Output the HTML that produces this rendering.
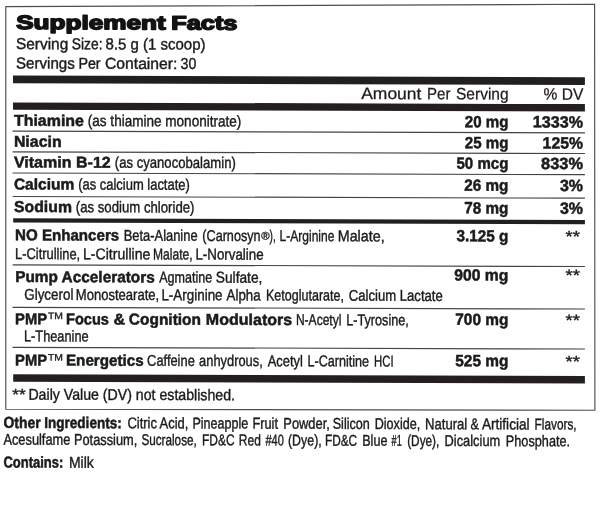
<!DOCTYPE html>
<html><head><meta charset="utf-8"><title>Supplement Facts</title>
<style>
html,body{margin:0;padding:0;background:#fff;}
body{width:600px;height:523px;overflow:hidden;font-family:"Liberation Sans", sans-serif;}
svg{display:block;font-family:"Liberation Sans", sans-serif;filter:blur(0.3px);}
</style></head><body>
<svg width="600" height="523" viewBox="0 0 600 523" text-rendering="geometricPrecision">
<rect x="0" y="0" width="600" height="523" fill="#fff"/>
<polygon points="5.8,6.6 594.6,4.3 594.9,410.2 5.8,409.2" fill="none" stroke="#4f4d4e" stroke-width="1.15"/>
<g transform="matrix(1,0.003,0,1,0,-0.0390)">
<text x="16.2" y="29.0" textLength="149.4" lengthAdjust="spacingAndGlyphs" font-size="19.4" font-weight="bold" fill="#141213" stroke="#141213" stroke-width="1.5" stroke-linejoin="round">Supplement</text>
<text x="171.3" y="29.0" textLength="66.1" lengthAdjust="spacingAndGlyphs" font-size="19.4" font-weight="bold" fill="#141213" stroke="#141213" stroke-width="1.5" stroke-linejoin="round">Facts</text>
<text x="16.0" y="49.1" textLength="52.2" lengthAdjust="spacingAndGlyphs" font-size="15.8" font-weight="normal" fill="#1c1a1b" stroke="#1c1a1b" stroke-width="0.4">Serving</text>
<text x="71.8" y="49.1" textLength="30.8" lengthAdjust="spacingAndGlyphs" font-size="15.8" font-weight="normal" fill="#1c1a1b" stroke="#1c1a1b" stroke-width="0.4">Size:</text>
<text x="105.6" y="49.1" textLength="99.9" lengthAdjust="spacingAndGlyphs" font-size="15.8" font-weight="normal" fill="#1c1a1b" stroke="#1c1a1b" stroke-width="0.4">8.5 g (1 scoop)</text>
<text x="16.0" y="68.5" textLength="58.8" lengthAdjust="spacingAndGlyphs" font-size="15.8" font-weight="normal" fill="#1c1a1b" stroke="#1c1a1b" stroke-width="0.4">Servings</text>
<text x="78.4" y="68.5" textLength="22.2" lengthAdjust="spacingAndGlyphs" font-size="15.8" font-weight="normal" fill="#1c1a1b" stroke="#1c1a1b" stroke-width="0.4">Per</text>
<text x="105.0" y="68.5" textLength="72.4" lengthAdjust="spacingAndGlyphs" font-size="15.8" font-weight="normal" fill="#1c1a1b" stroke="#1c1a1b" stroke-width="0.4">Container:</text>
<text x="180.6" y="68.5" textLength="15.8" lengthAdjust="spacingAndGlyphs" font-size="15.8" font-weight="normal" fill="#1c1a1b" stroke="#1c1a1b" stroke-width="0.4">30</text>
<rect x="13.0" y="75.5" width="571.9" height="7.7" fill="#231f20"/>
<text x="361.2" y="98.0" textLength="60.2" lengthAdjust="spacingAndGlyphs" font-size="16.4" font-weight="normal" fill="#1c1a1b" stroke="#1c1a1b" stroke-width="0.25">Amount</text>
<text x="427.0" y="98.0" textLength="23.4" lengthAdjust="spacingAndGlyphs" font-size="16.4" font-weight="normal" fill="#1c1a1b" stroke="#1c1a1b" stroke-width="0.25">Per</text>
<text x="456.0" y="98.0" textLength="52.6" lengthAdjust="spacingAndGlyphs" font-size="16.4" font-weight="normal" fill="#1c1a1b" stroke="#1c1a1b" stroke-width="0.25">Serving</text>
<text x="543.5" y="98.0" textLength="39.8" lengthAdjust="spacingAndGlyphs" font-size="16.4" font-weight="normal" fill="#1c1a1b" stroke="#1c1a1b" stroke-width="0.25">% DV</text>
<rect x="13.0" y="102.4" width="571.9" height="7.3" fill="#231f20"/>
<text x="13.9" y="125.8" textLength="70.1" lengthAdjust="spacingAndGlyphs" font-size="15.7" font-weight="bold" fill="#1c1a1b" stroke="#1c1a1b" stroke-width="0.5">Thiamine</text>
<text x="87.8" y="125.8" textLength="153.5" lengthAdjust="spacingAndGlyphs" font-size="15.6" font-weight="normal" fill="#1c1a1b" stroke="#1c1a1b" stroke-width="0.4">(as thiamine mononitrate)</text>
<text x="464.8" y="125.8" textLength="43.6" lengthAdjust="spacingAndGlyphs" font-size="16.3" font-weight="bold" fill="#1c1a1b" stroke="#1c1a1b" stroke-width="0.5">20 mg</text>
<text x="532.8" y="125.8" textLength="50.2" lengthAdjust="spacingAndGlyphs" font-size="16.3" font-weight="bold" fill="#1c1a1b" stroke="#1c1a1b" stroke-width="0.5">1333%</text>
<text x="13.9" y="146.8" textLength="47.7" lengthAdjust="spacingAndGlyphs" font-size="15.7" font-weight="bold" fill="#1c1a1b" stroke="#1c1a1b" stroke-width="0.5">Niacin</text>
<text x="464.8" y="146.8" textLength="43.6" lengthAdjust="spacingAndGlyphs" font-size="16.3" font-weight="bold" fill="#1c1a1b" stroke="#1c1a1b" stroke-width="0.5">25 mg</text>
<text x="542.6" y="146.8" textLength="40.4" lengthAdjust="spacingAndGlyphs" font-size="16.3" font-weight="bold" fill="#1c1a1b" stroke="#1c1a1b" stroke-width="0.5">125%</text>
<text x="13.9" y="167.4" textLength="96.9" lengthAdjust="spacingAndGlyphs" font-size="15.7" font-weight="bold" fill="#1c1a1b" stroke="#1c1a1b" stroke-width="0.5">Vitamin B-12</text>
<text x="114.8" y="167.4" textLength="121.0" lengthAdjust="spacingAndGlyphs" font-size="15.6" font-weight="normal" fill="#1c1a1b" stroke="#1c1a1b" stroke-width="0.4">(as cyanocobalamin)</text>
<text x="456.5" y="167.4" textLength="51.9" lengthAdjust="spacingAndGlyphs" font-size="16.3" font-weight="bold" fill="#1c1a1b" stroke="#1c1a1b" stroke-width="0.5">50 mcg</text>
<text x="541.1" y="167.4" textLength="41.9" lengthAdjust="spacingAndGlyphs" font-size="16.3" font-weight="bold" fill="#1c1a1b" stroke="#1c1a1b" stroke-width="0.5">833%</text>
<text x="13.9" y="189.4" textLength="60.3" lengthAdjust="spacingAndGlyphs" font-size="15.7" font-weight="bold" fill="#1c1a1b" stroke="#1c1a1b" stroke-width="0.5">Calcium</text>
<text x="78.2" y="189.4" textLength="111.6" lengthAdjust="spacingAndGlyphs" font-size="15.6" font-weight="normal" fill="#1c1a1b" stroke="#1c1a1b" stroke-width="0.4">(as calcium lactate)</text>
<text x="464.3" y="189.4" textLength="44.1" lengthAdjust="spacingAndGlyphs" font-size="16.3" font-weight="bold" fill="#1c1a1b" stroke="#1c1a1b" stroke-width="0.5">26 mg</text>
<text x="559.9" y="189.4" textLength="23.1" lengthAdjust="spacingAndGlyphs" font-size="16.3" font-weight="bold" fill="#1c1a1b" stroke="#1c1a1b" stroke-width="0.5">3%</text>
<text x="14.0" y="212.0" textLength="58.0" lengthAdjust="spacingAndGlyphs" font-size="15.7" font-weight="bold" fill="#1c1a1b" stroke="#1c1a1b" stroke-width="0.5">Sodium</text>
<text x="75.8" y="212.0" textLength="118.7" lengthAdjust="spacingAndGlyphs" font-size="15.6" font-weight="normal" fill="#1c1a1b" stroke="#1c1a1b" stroke-width="0.4">(as sodium chloride)</text>
<text x="464.3" y="212.0" textLength="44.1" lengthAdjust="spacingAndGlyphs" font-size="16.3" font-weight="bold" fill="#1c1a1b" stroke="#1c1a1b" stroke-width="0.5">78 mg</text>
<text x="559.9" y="212.0" textLength="23.1" lengthAdjust="spacingAndGlyphs" font-size="16.3" font-weight="bold" fill="#1c1a1b" stroke="#1c1a1b" stroke-width="0.5">3%</text>
<rect x="12.6" y="130.6" width="572.3" height="1.2" fill="#454344"/>
<rect x="12.6" y="151.2" width="572.3" height="1.2" fill="#454344"/>
<rect x="12.6" y="172.4" width="572.3" height="1.2" fill="#454344"/>
<rect x="12.6" y="195.9" width="572.3" height="1.2" fill="#454344"/>
<rect x="13.2" y="218.3" width="571.7" height="4.3" fill="#231f20"/>
<text x="15.0" y="240.3" textLength="104.2" lengthAdjust="spacingAndGlyphs" font-size="15.7" font-weight="bold" fill="#1c1a1b" stroke="#1c1a1b" stroke-width="0.5">NO Enhancers</text>
<text x="123.7" y="240.3" textLength="73.9" lengthAdjust="spacingAndGlyphs" font-size="15.6" font-weight="normal" fill="#1c1a1b" stroke="#1c1a1b" stroke-width="0.4">Beta-Alanine</text>
<text x="202.3" y="240.3" textLength="58.3" lengthAdjust="spacingAndGlyphs" font-size="15.6" font-weight="normal" fill="#1c1a1b" stroke="#1c1a1b" stroke-width="0.4">(Carnosyn</text>
<text x="269.6" y="240.3" textLength="6.2" lengthAdjust="spacingAndGlyphs" font-size="15.6" font-weight="normal" fill="#1c1a1b" stroke="#1c1a1b" stroke-width="0.4">),</text>
<text x="279.6" y="240.3" textLength="54.8" lengthAdjust="spacingAndGlyphs" font-size="15.6" font-weight="normal" fill="#1c1a1b" stroke="#1c1a1b" stroke-width="0.4">L-Arginine</text>
<text x="337.8" y="240.3" textLength="46.8" lengthAdjust="spacingAndGlyphs" font-size="15.6" font-weight="normal" fill="#1c1a1b" stroke="#1c1a1b" stroke-width="0.4">Malate,</text>
<text x="261.3" y="238.8" textLength="8.4" lengthAdjust="spacingAndGlyphs" font-size="11" font-weight="normal" fill="#1c1a1b" stroke="#1c1a1b" stroke-width="0.35">®</text>
<text x="15.0" y="259.0" textLength="65.2" lengthAdjust="spacingAndGlyphs" font-size="15.6" font-weight="normal" fill="#1c1a1b" stroke="#1c1a1b" stroke-width="0.4">L-Citrulline,</text>
<text x="83.0" y="259.0" textLength="67.4" lengthAdjust="spacingAndGlyphs" font-size="15.6" font-weight="normal" fill="#1c1a1b" stroke="#1c1a1b" stroke-width="0.4">L-Citrulline</text>
<text x="153.0" y="259.0" textLength="39.6" lengthAdjust="spacingAndGlyphs" font-size="15.6" font-weight="normal" fill="#1c1a1b" stroke="#1c1a1b" stroke-width="0.4">Malate,</text>
<text x="195.4" y="259.0" textLength="68.2" lengthAdjust="spacingAndGlyphs" font-size="15.6" font-weight="normal" fill="#1c1a1b" stroke="#1c1a1b" stroke-width="0.4">L-Norvaline</text>
<text x="456.5" y="240.0" textLength="51.9" lengthAdjust="spacingAndGlyphs" font-size="16.3" font-weight="bold" fill="#1c1a1b" stroke="#1c1a1b" stroke-width="0.5">3.125 g</text>
<rect x="12.6" y="264.2" width="572.3" height="1.2" fill="#454344"/>
<text x="15.2" y="282.0" textLength="139.6" lengthAdjust="spacingAndGlyphs" font-size="15.7" font-weight="bold" fill="#1c1a1b" stroke="#1c1a1b" stroke-width="0.5">Pump Accelerators</text>
<text x="159.2" y="282.0" textLength="53.0" lengthAdjust="spacingAndGlyphs" font-size="15.6" font-weight="normal" fill="#1c1a1b" stroke="#1c1a1b" stroke-width="0.4">Agmatine</text>
<text x="215.8" y="282.0" textLength="46.6" lengthAdjust="spacingAndGlyphs" font-size="15.6" font-weight="normal" fill="#1c1a1b" stroke="#1c1a1b" stroke-width="0.4">Sulfate,</text>
<text x="24.3" y="299.7" textLength="49.1" lengthAdjust="spacingAndGlyphs" font-size="15.6" font-weight="normal" fill="#1c1a1b" stroke="#1c1a1b" stroke-width="0.4">Glycerol</text>
<text x="75.8" y="299.7" textLength="83.4" lengthAdjust="spacingAndGlyphs" font-size="15.6" font-weight="normal" fill="#1c1a1b" stroke="#1c1a1b" stroke-width="0.4">Monostearate,</text>
<text x="161.4" y="299.7" textLength="61.2" lengthAdjust="spacingAndGlyphs" font-size="15.6" font-weight="normal" fill="#1c1a1b" stroke="#1c1a1b" stroke-width="0.4">L-Arginine</text>
<text x="226.6" y="299.7" textLength="34.0" lengthAdjust="spacingAndGlyphs" font-size="15.6" font-weight="normal" fill="#1c1a1b" stroke="#1c1a1b" stroke-width="0.4">Alpha</text>
<text x="266" y="299.7" textLength="78" lengthAdjust="spacingAndGlyphs" font-size="15.6" font-weight="normal" fill="#1c1a1b" stroke="#1c1a1b" stroke-width="0.4">Ketoglutarate,</text>
<text x="348.8" y="299.7" textLength="94.0" lengthAdjust="spacingAndGlyphs" font-size="15.6" font-weight="normal" fill="#1c1a1b" stroke="#1c1a1b" stroke-width="0.4">Calcium Lactate</text>
<text x="454.3" y="279.2" textLength="54.1" lengthAdjust="spacingAndGlyphs" font-size="16.3" font-weight="bold" fill="#1c1a1b" stroke="#1c1a1b" stroke-width="0.5">900 mg</text>
<rect x="12.6" y="306.7" width="572.3" height="1.2" fill="#454344"/>
<text x="15.1" y="324.2" textLength="31.9" lengthAdjust="spacingAndGlyphs" font-size="15.7" font-weight="bold" fill="#1c1a1b" stroke="#1c1a1b" stroke-width="0.5">PMP</text>
<text x="48.0" y="318.9" textLength="15.0" lengthAdjust="spacingAndGlyphs" font-size="9.4" font-weight="normal" fill="#1c1a1b" stroke="#1c1a1b" stroke-width="0.3">TM</text>
<text x="66.0" y="324.2" textLength="43.0" lengthAdjust="spacingAndGlyphs" font-size="15.7" font-weight="bold" fill="#1c1a1b" stroke="#1c1a1b" stroke-width="0.5">Focus</text>
<text x="113.4" y="324.2" textLength="11.6" lengthAdjust="spacingAndGlyphs" font-size="15.7" font-weight="bold" fill="#1c1a1b" stroke="#1c1a1b" stroke-width="0.5">&amp;</text>
<text x="128.8" y="324.2" textLength="72.2" lengthAdjust="spacingAndGlyphs" font-size="15.7" font-weight="bold" fill="#1c1a1b" stroke="#1c1a1b" stroke-width="0.5">Cognition</text>
<text x="205.8" y="324.2" textLength="86.4" lengthAdjust="spacingAndGlyphs" font-size="15.7" font-weight="bold" fill="#1c1a1b" stroke="#1c1a1b" stroke-width="0.5">Modulators</text>
<text x="295.9" y="324.2" textLength="45.5" lengthAdjust="spacingAndGlyphs" font-size="15.6" font-weight="normal" fill="#1c1a1b" stroke="#1c1a1b" stroke-width="0.4">N-Acetyl</text>
<text x="346.2" y="324.2" textLength="62.6" lengthAdjust="spacingAndGlyphs" font-size="15.6" font-weight="normal" fill="#1c1a1b" stroke="#1c1a1b" stroke-width="0.4">L-Tyrosine,</text>
<text x="24.0" y="341.3" textLength="64.6" lengthAdjust="spacingAndGlyphs" font-size="15.6" font-weight="normal" fill="#1c1a1b" stroke="#1c1a1b" stroke-width="0.4">L-Theanine</text>
<text x="455.3" y="323.5" textLength="53.1" lengthAdjust="spacingAndGlyphs" font-size="16.3" font-weight="bold" fill="#1c1a1b" stroke="#1c1a1b" stroke-width="0.5">700 mg</text>
<rect x="12.6" y="346.7" width="572.3" height="1.2" fill="#454344"/>
<text x="15.1" y="365.4" textLength="31.9" lengthAdjust="spacingAndGlyphs" font-size="15.7" font-weight="bold" fill="#1c1a1b" stroke="#1c1a1b" stroke-width="0.5">PMP</text>
<text x="48.0" y="360.5" textLength="15.0" lengthAdjust="spacingAndGlyphs" font-size="9.4" font-weight="normal" fill="#1c1a1b" stroke="#1c1a1b" stroke-width="0.3">TM</text>
<text x="66.0" y="365.4" textLength="77.6" lengthAdjust="spacingAndGlyphs" font-size="15.7" font-weight="bold" fill="#1c1a1b" stroke="#1c1a1b" stroke-width="0.5">Energetics</text>
<text x="147.1" y="365.4" textLength="47.7" lengthAdjust="spacingAndGlyphs" font-size="15.6" font-weight="normal" fill="#1c1a1b" stroke="#1c1a1b" stroke-width="0.4">Caffeine</text>
<text x="199.1" y="365.4" textLength="63.7" lengthAdjust="spacingAndGlyphs" font-size="15.6" font-weight="normal" fill="#1c1a1b" stroke="#1c1a1b" stroke-width="0.4">anhydrous,</text>
<text x="267.7" y="365.4" textLength="35.1" lengthAdjust="spacingAndGlyphs" font-size="15.6" font-weight="normal" fill="#1c1a1b" stroke="#1c1a1b" stroke-width="0.4">Acetyl</text>
<text x="307.6" y="365.4" textLength="61.5" lengthAdjust="spacingAndGlyphs" font-size="15.6" font-weight="normal" fill="#1c1a1b" stroke="#1c1a1b" stroke-width="0.4">L-Carnitine</text>
<text x="374.1" y="365.4" textLength="19.5" lengthAdjust="spacingAndGlyphs" font-size="15.6" font-weight="normal" fill="#1c1a1b" stroke="#1c1a1b" stroke-width="0.4">HCI</text>
<text x="455.3" y="364.9" textLength="53.1" lengthAdjust="spacingAndGlyphs" font-size="16.3" font-weight="bold" fill="#1c1a1b" stroke="#1c1a1b" stroke-width="0.5">525 mg</text>
<text x="565.6" y="240.4" textLength="14.4" lengthAdjust="spacingAndGlyphs" font-size="16" font-weight="normal" fill="#1c1a1b" stroke="#1c1a1b" stroke-width="0.35">**</text>
<text x="565.6" y="279.0" textLength="14.4" lengthAdjust="spacingAndGlyphs" font-size="16" font-weight="normal" fill="#1c1a1b" stroke="#1c1a1b" stroke-width="0.35">**</text>
<text x="565.6" y="324.1" textLength="14.4" lengthAdjust="spacingAndGlyphs" font-size="16" font-weight="normal" fill="#1c1a1b" stroke="#1c1a1b" stroke-width="0.35">**</text>
<text x="565.6" y="365.3" textLength="14.4" lengthAdjust="spacingAndGlyphs" font-size="16" font-weight="normal" fill="#1c1a1b" stroke="#1c1a1b" stroke-width="0.35">**</text>
<rect x="13.2" y="374.3" width="571.7" height="7.4" fill="#231f20"/>
<text x="12.2" y="400.0" textLength="13.4" lengthAdjust="spacingAndGlyphs" font-size="16" font-weight="normal" fill="#1c1a1b" stroke="#1c1a1b" stroke-width="0.35">**</text>
<text x="28.4" y="399.6" textLength="206.6" lengthAdjust="spacingAndGlyphs" font-size="15.7" font-weight="normal" fill="#1c1a1b" stroke="#1c1a1b" stroke-width="0.4">Daily Value (DV) not established.</text>
<text x="3.4" y="427.9" textLength="37.2" lengthAdjust="spacingAndGlyphs" font-size="15.7" font-weight="bold" fill="#1c1a1b" stroke="#1c1a1b" stroke-width="0.5">Other</text>
<text x="44.2" y="427.9" textLength="77.6" lengthAdjust="spacingAndGlyphs" font-size="15.7" font-weight="bold" fill="#1c1a1b" stroke="#1c1a1b" stroke-width="0.5">Ingredients:</text>
<text x="127.4" y="427.9" textLength="29.6" lengthAdjust="spacingAndGlyphs" font-size="15.6" font-weight="normal" fill="#1c1a1b" stroke="#1c1a1b" stroke-width="0.4">Citric</text>
<text x="159.6" y="427.9" textLength="28.8" lengthAdjust="spacingAndGlyphs" font-size="15.6" font-weight="normal" fill="#1c1a1b" stroke="#1c1a1b" stroke-width="0.4">Acid,</text>
<text x="192.4" y="427.9" textLength="55.9" lengthAdjust="spacingAndGlyphs" font-size="15.6" font-weight="normal" fill="#1c1a1b" stroke="#1c1a1b" stroke-width="0.4">Pineapple</text>
<text x="252.4" y="427.9" textLength="25.6" lengthAdjust="spacingAndGlyphs" font-size="15.6" font-weight="normal" fill="#1c1a1b" stroke="#1c1a1b" stroke-width="0.4">Fruit</text>
<text x="283.3" y="427.9" textLength="46.5" lengthAdjust="spacingAndGlyphs" font-size="15.6" font-weight="normal" fill="#1c1a1b" stroke="#1c1a1b" stroke-width="0.4">Powder,</text>
<text x="332.7" y="427.9" textLength="37.1" lengthAdjust="spacingAndGlyphs" font-size="15.6" font-weight="normal" fill="#1c1a1b" stroke="#1c1a1b" stroke-width="0.4">Silicon</text>
<text x="374.7" y="427.9" textLength="45.5" lengthAdjust="spacingAndGlyphs" font-size="15.6" font-weight="normal" fill="#1c1a1b" stroke="#1c1a1b" stroke-width="0.4">Dioxide,</text>
<text x="425" y="427.9" textLength="42.3" lengthAdjust="spacingAndGlyphs" font-size="15.6" font-weight="normal" fill="#1c1a1b" stroke="#1c1a1b" stroke-width="0.4">Natural</text>
<text x="470.6" y="427.9" textLength="8.4" lengthAdjust="spacingAndGlyphs" font-size="15.6" font-weight="normal" fill="#1c1a1b" stroke="#1c1a1b" stroke-width="0.4">&amp;</text>
<text x="481.9" y="427.9" textLength="47.7" lengthAdjust="spacingAndGlyphs" font-size="15.6" font-weight="normal" fill="#1c1a1b" stroke="#1c1a1b" stroke-width="0.4">Artificial</text>
<text x="534.6" y="427.9" textLength="42.0" lengthAdjust="spacingAndGlyphs" font-size="15.6" font-weight="normal" fill="#1c1a1b" stroke="#1c1a1b" stroke-width="0.4">Flavors,</text>
<text x="3.4" y="444.7" textLength="133.9" lengthAdjust="spacingAndGlyphs" font-size="15.6" font-weight="normal" fill="#1c1a1b" stroke="#1c1a1b" stroke-width="0.4">Acesulfame Potassium,</text>
<text x="141.4" y="444.7" textLength="55.4" lengthAdjust="spacingAndGlyphs" font-size="15.6" font-weight="normal" fill="#1c1a1b" stroke="#1c1a1b" stroke-width="0.4">Sucralose,</text>
<text x="202" y="444.7" textLength="32.6" lengthAdjust="spacingAndGlyphs" font-size="15.6" font-weight="normal" fill="#1c1a1b" stroke="#1c1a1b" stroke-width="0.4">FD&amp;C</text>
<text x="238.8" y="444.7" textLength="22.0" lengthAdjust="spacingAndGlyphs" font-size="15.6" font-weight="normal" fill="#1c1a1b" stroke="#1c1a1b" stroke-width="0.4">Red</text>
<text x="265.4" y="444.7" textLength="18.4" lengthAdjust="spacingAndGlyphs" font-size="15.6" font-weight="normal" fill="#1c1a1b" stroke="#1c1a1b" stroke-width="0.4">#40</text>
<text x="288" y="444.7" textLength="33.7" lengthAdjust="spacingAndGlyphs" font-size="15.6" font-weight="normal" fill="#1c1a1b" stroke="#1c1a1b" stroke-width="0.4">(Dye),</text>
<text x="324.9" y="444.7" textLength="32.3" lengthAdjust="spacingAndGlyphs" font-size="15.6" font-weight="normal" fill="#1c1a1b" stroke="#1c1a1b" stroke-width="0.4">FD&amp;C</text>
<text x="362.2" y="444.7" textLength="25.2" lengthAdjust="spacingAndGlyphs" font-size="15.6" font-weight="normal" fill="#1c1a1b" stroke="#1c1a1b" stroke-width="0.4">Blue</text>
<text x="391.6" y="444.7" textLength="10.2" lengthAdjust="spacingAndGlyphs" font-size="15.6" font-weight="normal" fill="#1c1a1b" stroke="#1c1a1b" stroke-width="0.4">#1</text>
<text x="407.2" y="444.7" textLength="32.1" lengthAdjust="spacingAndGlyphs" font-size="15.6" font-weight="normal" fill="#1c1a1b" stroke="#1c1a1b" stroke-width="0.4">(Dye),</text>
<text x="444.5" y="444.7" textLength="55.8" lengthAdjust="spacingAndGlyphs" font-size="15.6" font-weight="normal" fill="#1c1a1b" stroke="#1c1a1b" stroke-width="0.4">Dicalcium</text>
<text x="505.8" y="444.7" textLength="64.3" lengthAdjust="spacingAndGlyphs" font-size="15.6" font-weight="normal" fill="#1c1a1b" stroke="#1c1a1b" stroke-width="0.4">Phosphate.</text>
<text x="3.4" y="467.5" textLength="60.0" lengthAdjust="spacingAndGlyphs" font-size="15.7" font-weight="bold" fill="#1c1a1b" stroke="#1c1a1b" stroke-width="0.5">Contains:</text>
<text x="69.0" y="467.5" textLength="24.8" lengthAdjust="spacingAndGlyphs" font-size="15.6" font-weight="normal" fill="#1c1a1b" stroke="#1c1a1b" stroke-width="0.4">Milk</text>
</g>
</svg>
</body></html>
